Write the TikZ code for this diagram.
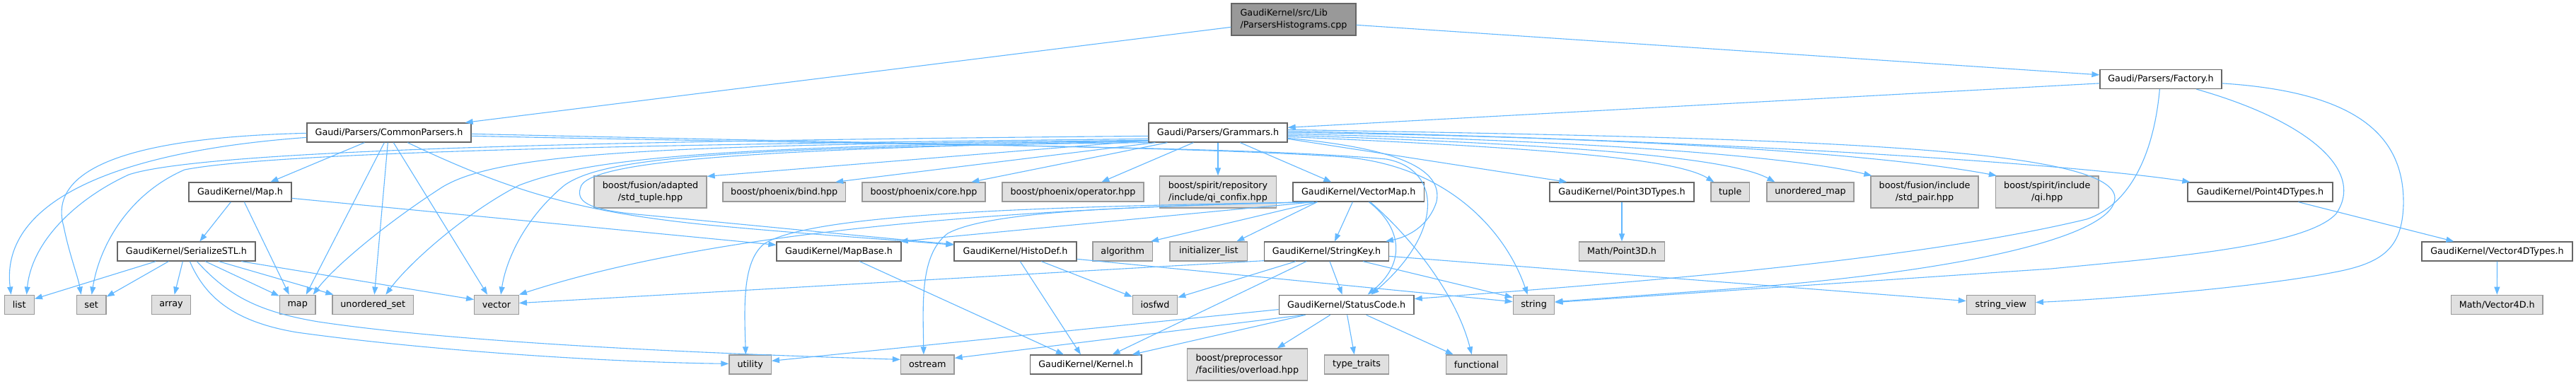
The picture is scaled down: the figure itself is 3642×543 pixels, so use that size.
\documentclass[tikz,border=0pt]{standalone}
\usepackage{fontspec}
\setmainfont{DejaVu Sans}
\usetikzlibrary{arrows.meta,calc}
\definecolor{edgec}{HTML}{63B8FF}
\definecolor{boxb}{HTML}{666666}
\definecolor{gboxb}{HTML}{999999}
\definecolor{gboxf}{HTML}{E0E0E0}
\definecolor{rootf}{HTML}{999999}
\begin{document}
\begin{tikzpicture}[x=1pt,y=-1pt,
 nbase/.style={rectangle,inner sep=0pt,line width=1.3pt,font=\fontsize{12.75}{17}\selectfont},
 wbox/.style={nbase,draw=boxb,fill=white},
 gbox/.style={nbase,draw=gboxb,fill=gboxf},
 rbox/.style={nbase,draw=boxb,fill=rootf},
 edge/.style={draw=edgec,line width=1.1pt,-{Triangle[length=11pt,width=8pt,fill=edgec]}},
]
\fill[white] (0,0) rectangle (3642,543);
\useasboundingbox (0,0) rectangle (3642,543);
% row 0-2
\node[rbox,minimum width=176pt,minimum height=45pt,align=left] (root) at (1829,27.5) {GaudiKernel/src/Lib\\/ParsersHistograms.cpp};
\node[wbox,minimum width=172pt,minimum height=27pt] (fa) at (3055,112) {Gaudi/Parsers/Factory.h};
\node[wbox,minimum width=232pt,minimum height=27pt] (cp) at (550,187.5) {Gaudi/Parsers/CommonParsers.h};
\node[wbox,minimum width=196pt,minimum height=27pt] (gr) at (1722,187.5) {Gaudi/Parsers/Grammars.h};
% row 3
\node[wbox,minimum width=145pt,minimum height=27pt] (mapH) at (339.5,271.5) {GaudiKernel/Map.h};
\node[gbox,minimum width=159pt,minimum height=45pt,align=center] (stup) at (919.5,271.5) {boost/fusion/adapted\\/std\_tuple.hpp};
\node[gbox,minimum width=173.5pt,minimum height=27pt] (bind) at (1108.75,271.5) {boost/phoenix/bind.hpp};
\node[gbox,minimum width=174pt,minimum height=27pt] (core) at (1306,271.5) {boost/phoenix/core.hpp};
\node[gbox,minimum width=200pt,minimum height=27pt] (oper) at (1517,271.5) {boost/phoenix/operator.hpp};
\node[gbox,minimum width=165pt,minimum height=45pt,align=center] (confix) at (1722,271.5) {boost/spirit/repository\\/include/qi\_confix.hpp};
\node[wbox,minimum width=185.5pt,minimum height=27pt] (vmap) at (1920.75,271.5) {GaudiKernel/VectorMap.h};
\node[wbox,minimum width=204pt,minimum height=27pt] (p3t) at (2293,271.5) {GaudiKernel/Point3DTypes.h};
\node[gbox,minimum width=54.5pt,minimum height=27pt] (tup) at (2446.25,271.5) {tuple};
\node[gbox,minimum width=123pt,minimum height=27pt] (umap) at (2559.5,271.5) {unordered\_map};
\node[gbox,minimum width=152pt,minimum height=45pt,align=center] (pair) at (2721,271.5) {boost/fusion/include\\/std\_pair.hpp};
\node[gbox,minimum width=145.5pt,minimum height=45pt,align=center] (qi) at (2894.25,271.5) {boost/spirit/include\\/qi.hpp};
\node[wbox,minimum width=205pt,minimum height=27pt] (p4t) at (3195.5,271.5) {GaudiKernel/Point4DTypes.h};
% row 4
\node[wbox,minimum width=195pt,minimum height=27pt] (sstl) at (263.5,355.5) {GaudiKernel/SerializeSTL.h};
\node[wbox,minimum width=176pt,minimum height=27pt] (mbase) at (1186,355.5) {GaudiKernel/MapBase.h};
\node[wbox,minimum width=173pt,minimum height=27pt] (hdef) at (1435.5,355.5) {GaudiKernel/HistoDef.h};
\node[gbox,minimum width=84.4pt,minimum height=27pt] (algo) at (1587.2,355.5) {algorithm};
\node[gbox,minimum width=109.5pt,minimum height=27pt] (ilist) at (1708.75,355.5) {initializer\_list};
\node[wbox,minimum width=175.7pt,minimum height=27pt] (skey) at (1875.5,355.5) {GaudiKernel/StringKey.h};
\node[gbox,minimum width=121.4pt,minimum height=27pt] (p3d) at (2293,355.5) {Math/Point3D.h};
\node[wbox,minimum width=213pt,minimum height=27pt] (v4t) at (3530.5,355.5) {GaudiKernel/Vector4DTypes.h};
% row 5
\node[gbox,minimum width=42pt,minimum height=27.5pt] (list) at (27.25,431) {list};
\node[gbox,minimum width=41.7pt,minimum height=27.5pt] (set) at (129.15,431) {set};
\node[gbox,minimum width=55.4pt,minimum height=27.5pt] (array) at (242,431) {array};
\node[gbox,minimum width=50.6pt,minimum height=27.5pt] (map) at (420.7,431) {map};
\node[gbox,minimum width=114.4pt,minimum height=27.5pt] (uset) at (527.2,431) {unordered\_set};
\node[gbox,minimum width=62.5pt,minimum height=27.5pt] (vec) at (702,431) {vector};
\node[gbox,minimum width=63.3pt,minimum height=27.5pt] (iosfwd) at (1633,431) {iosfwd};
\node[wbox,minimum width=190.7pt,minimum height=27.5pt] (sc) at (1903.65,431) {GaudiKernel/StatusCode.h};
\node[gbox,minimum width=58.5pt,minimum height=27.5pt] (str) at (2168.55,431) {string};
\node[gbox,minimum width=96.9pt,minimum height=27.5pt] (sv) at (2828.85,431) {string\_view};
\node[gbox,minimum width=129.4pt,minimum height=27.5pt] (v4d) at (3530.3,431) {Math/Vector4D.h};
% row 6
\node[gbox,minimum width=59.3pt,minimum height=27pt] (util) at (1060.65,515.5) {utility};
\node[gbox,minimum width=75.5pt,minimum height=27pt] (ostr) at (1311.25,515.5) {ostream};
\node[wbox,minimum width=157.4pt,minimum height=27pt] (kern) at (1535.3,515.5) {GaudiKernel/Kernel.h};
\node[gbox,minimum width=169.8pt,minimum height=45pt,align=left] (ovl) at (1763.3,515.5) {boost/preprocessor\\/facilities/overload.hpp};
\node[gbox,minimum width=91.3pt,minimum height=27pt] (tt) at (1918.05,515.5) {type\_traits};
\node[gbox,minimum width=86.2pt,minimum height=27pt] (func) at (2087.5,515.5) {functional};

% ---- edges
% root
\draw[edge] ($(root.north west)+(0,34)$) -- ($(cp.north east)+(-9,0)$);
\draw[edge] ($(root.north east)+(0,31)$) -- ($(fa.north west)+(0,8)$);
% Factory
\draw[edge] ($(fa.north west)+(0,20)$) -- ($(gr.north east)+(0,7)$);
\draw[edge] ($(fa.south west)+(85,0)$) .. controls (3045,220) and (3010,290) .. (2950,310) .. controls (2700,370) and (2300,400) .. ($(sc.north east)+(0,6)$);
\draw[edge] ($(fa.south west)+(137,0)$) .. controls (3260,170) and (3345,240) .. (3303,302) .. controls (3260,350) and (3050,365) .. (2900,380) -- ($(str.north east)+(0,11)$);
\draw[edge] ($(fa.north east)+(0,20)$) .. controls (3330,130) and (3400,190) .. (3398,290) .. controls (3396,350) and (3370,372) .. (3300,385) .. controls (3200,405) and (3000,422) .. ($(sv.north east)+(0,11)$);
% CommonParsers
\draw[edge] ($(cp.north west)+(0,21)$) .. controls (150,215) and (0,290) .. ($(list.north west)+(10,0)$);
\draw[edge] ($(cp.north west)+(0,15)$) .. controls (150,195) and (70,250) .. (90,320) .. controls (98,360) and (110,390) .. ($(set.north west)+(7,0)$);
\draw[edge] ($(cp.south west)+(82,0)$) -- ($(mapH.north west)+(116,0)$);
\draw[edge] ($(cp.south west)+(110,0)$) -- ($(map.north west)+(38,0)$);
\draw[edge] ($(cp.south west)+(115,0)$) -- ($(uset.north west)+(60,0)$);
\draw[edge] ($(cp.south west)+(123,0)$) -- ($(vec.north west)+(19,0)$);
\draw[edge] ($(cp.south west)+(143,0)$) .. controls (720,270) and (820,300) .. (1000,318) .. controls (1150,332) and (1250,338) .. ($(hdef.north west)+(0,5)$);
\draw[edge] ($(cp.north east)+(0,19)$) .. controls (1300,206) and (1750,206) .. (1960,225) .. controls (2040,240) and (2040,330) .. ($(sc.north west)+(131,0)$);
\draw[edge] ($(cp.north east)+(0,16)$) .. controls (1300,204) and (1700,208) .. (1900,222) .. controls (2050,235) and (2130,330) .. ($(str.north west)+(21,0)$);
% Grammars
\draw[edge] ($(gr.north west)+(0,19)$) .. controls (1000,198) and (300,208) .. (182,247) .. controls (110,280) and (45,340) .. ($(list.north west)+(32,0)$);
\draw[edge] ($(gr.north west)+(0,23)$) .. controls (1000,203) and (400,213) .. (261,240) .. controls (180,275) and (140,350) .. ($(set.north west)+(22,0)$);
\draw[edge] ($(gr.north west)+(0,25)$) .. controls (950,205) and (700,213) .. (620,268) .. controls (540,320) and (470,380) .. ($(map.north west)+(48,0)$);
\draw[edge] ($(gr.north west)+(0,26)$) .. controls (1000,206) and (830,225) .. (734,262) .. controls (660,300) and (580,370) .. ($(uset.north west)+(76,0)$);
\draw[edge] (gr.south west) .. controls (1000,208) and (850,225) .. (798,262) .. controls (740,310) and (715,370) .. ($(vec.north west)+(38,0)$);
\draw[edge] ($(gr.south west)+(0,-2)$) .. controls (1100,210) and (845,225) .. (822,262) .. controls (812,285) and (830,296) .. (900,303) .. controls (1100,322) and (1250,337) .. ($(hdef.north west)+(0,4)$);
\draw[edge] ($(gr.south west)+(0,-3)$) -- ($(stup.north east)+(0,1)$);
\draw[edge] ($(gr.south west)+(10,0)$) -- ($(bind.north east)+(-15,0)$);
\draw[edge] ($(gr.south west)+(27,0)$) -- ($(core.north west)+(155,0)$);
\draw[edge] ($(gr.south west)+(64,0)$) -- ($(oper.north west)+(141,0)$);
\draw[edge] (gr.south) -- (confix.north);
\draw[edge] ($(gr.south west)+(130,0)$) -- ($(vmap.north west)+(55,0)$);
\draw[edge] ($(gr.north east)+(0,23)$) -- ($(p3t.north west)+(25,0)$);
\draw[edge] ($(gr.north east)+(0,20)$) .. controls (2200,210) and (2370,225) .. ($(tup.north west)+(5,0)$);
\draw[edge] ($(gr.north east)+(0,18)$) .. controls (2250,205) and (2450,225) .. ($(umap.north west)+(12,0)$);
\draw[edge] ($(gr.north east)+(0,16)$) .. controls (2300,200) and (2550,225) .. ($(pair.north west)+(2,0)$);
\draw[edge] ($(gr.north east)+(0,14)$) .. controls (2400,195) and (2700,225) .. ($(qi.north west)+(2,0)$);
\draw[edge] ($(gr.north east)+(0,12)$) .. controls (2500,200) and (2950,235) .. ($(p4t.north west)+(4,0)$);
\draw[edge] ($(gr.north east)+(0,10)$) .. controls (2500,195) and (2990,205) .. (2990,280) .. controls (2990,330) and (2800,385) .. (2400,412) -- ($(str.north east)+(0,10)$);
\draw[edge] ($(gr.north east)+(0,22)$) .. controls (1980,210) and (2040,240) .. (2031,285) .. controls (2020,320) and (1990,335) .. ($(skey.north east)+(-5,0)$);
% VectorMap
\draw[edge] ($(vmap.south west)+(35,0)$) -- ($(algo.north east)+(-3,0)$);
\draw[edge] ($(vmap.south west)+(35,0)$) -- ($(ilist.north west)+(95,0)$);
\draw[edge] ($(vmap.south west)+(30,0)$) -- ($(mbase.north east)+(-2,0)$);
\draw[edge] ($(vmap.south west)+(30,0)$) .. controls (1400,295) and (1000,330) .. (vec.north east);
\draw[edge] ($(vmap.south west)+(30,0)$) .. controls (1500,292) and (1150,300) .. (1080,345) .. controls (1050,370) and (1052,430) .. ($(util.north west)+(24,0)$);
\draw[edge] ($(vmap.south west)+(30,0)$) .. controls (1600,292) and (1400,298) .. (1340,330) .. controls (1300,360) and (1305,430) .. ($(ostr.north west)+(33,0)$);
\draw[edge] ($(vmap.south west)+(85,0)$) -- ($(skey.north west)+(100,0)$);
\draw[edge] ($(vmap.south west)+(108,0)$) .. controls (1980,320) and (1990,370) .. ($(sc.north west)+(126,0)$);
\draw[edge] ($(vmap.south west)+(110,0)$) .. controls (2000,340) and (2060,420) .. ($(func.north west)+(37,0)$);
% StringKey
\draw[edge] ($(skey.south west)+(0,-1)$) -- ($(vec.north east)+(0,12)$);
\draw[edge] ($(skey.south west)+(45,0)$) -- ($(iosfwd.north east)+(0,4)$);
\draw[edge] ($(skey.south west)+(60,0)$) -- ($(kern.north east)+(-42,0)$);
\draw[edge] ($(skey.south west)+(93,0)$) -- ($(sc.north west)+(90,0)$);
\draw[edge] ($(skey.south west)+(140,0)$) -- ($(str.north west)+(0,4)$);
\draw[edge] ($(skey.north east)+(0,21)$) -- ($(sv.north west)+(0,9)$);
% HistoDef
\draw[edge] ($(hdef.south west)+(124,0)$) -- ($(iosfwd.north west)+(0,3)$);
\draw[edge] ($(hdef.south west)+(94,0)$) -- ($(kern.north west)+(72,0)$);
\draw[edge] ($(hdef.north east)+(0,25)$) -- ($(str.north west)+(0,10)$);
% MapBase
\draw[edge] ($(mbase.south west)+(118,0)$) -- ($(kern.north west)+(48,0)$);
% Map.h
\draw[edge] ($(mapH.south west)+(60,0)$) -- ($(sstl.north west)+(117,0)$);
\draw[edge] ($(mapH.south west)+(79,0)$) -- ($(map.north west)+(14,0)$);
\draw[edge] ($(mapH.north east)+(0,23)$) -- ($(mbase.north west)+(0,5)$);
% SerializeSTL
\draw[edge] ($(sstl.south west)+(55,0)$) -- ($(list.north east)+(0,6)$);
\draw[edge] ($(sstl.south west)+(73,0)$) -- ($(set.north east)+(0,3)$);
\draw[edge] ($(sstl.south west)+(93,0)$) -- ($(array.north west)+(33,0)$);
\draw[edge] ($(sstl.south west)+(103,0)$) .. controls (290,420) and (330,455) .. (420,470) .. controls (600,495) and (850,512) .. ($(util.north west)+(0,13)$);
\draw[edge] ($(sstl.south west)+(113,0)$) .. controls (320,415) and (360,440) .. (450,455) .. controls (650,485) and (1000,500) .. ($(ostr.north west)+(0,7)$);
\draw[edge] ($(sstl.south west)+(125,0)$) -- ($(map.north west)+(0,2)$);
\draw[edge] ($(sstl.south west)+(144,0)$) -- ($(uset.north west)+(2,0)$);
\draw[edge] ($(sstl.south west)+(176,0)$) -- ($(vec.north west)+(0,7)$);
% StatusCode
\draw[edge] ($(sc.north west)+(0,21)$) -- ($(util.north east)+(0,9)$);
\draw[edge] ($(sc.south west)+(35,0)$) -- ($(ostr.north east)+(0,5)$);
\draw[edge] ($(sc.south west)+(38,0)$) -- ($(kern.north east)+(-14,0)$);
\draw[edge] ($(sc.south west)+(73,0)$) -- ($(ovl.north east)+(-43,0)$);
\draw[edge] ($(sc.south west)+(97,0)$) -- ($(tt.north west)+(43,0)$);
\draw[edge] ($(sc.south west)+(124,0)$) -- ($(func.north west)+(11,0)$);
% points / vectors
\draw[edge] (p3t.south) -- (p3d.north);
\draw[edge] ($(p4t.south west)+(157,0)$) -- ($(v4t.north west)+(46,0)$);
\draw[edge] (v4t.south) -- (v4d.north);
\end{tikzpicture}
\end{document}
